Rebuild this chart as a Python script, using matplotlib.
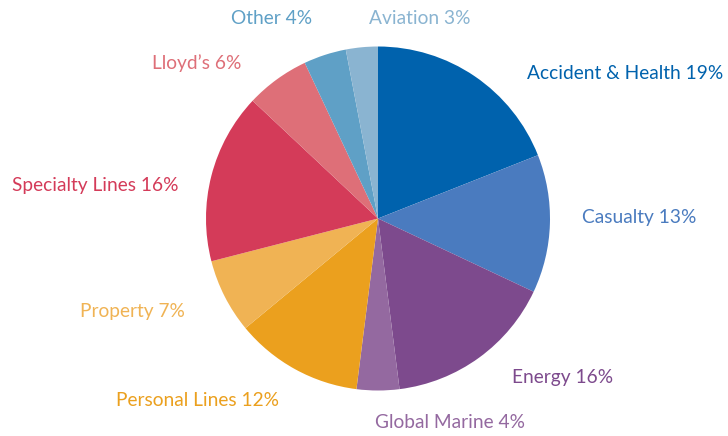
import matplotlib
matplotlib.use("Agg")
import matplotlib.pyplot as plt

categories = ["Accident & Health", "Casualty", "Energy", "Global Marine", "Personal Lines",
              "Property", "Specialty Lines", "Lloyd\u2019s", "Other", "Aviation"]
shares = [19, 13, 16, 4, 12, 7, 16, 6, 4, 3]
colors = ["#0062AD", "#4A7BBF", "#7D4A8D", "#9469A0", "#EBA01E",
          "#F0B354", "#D43B59", "#DE6F78", "#5FA0C6", "#8AB4D1"]
# label anchor positions (left x, centre y) in pixel coordinates
label_pos = [(527, 73), (582, 217), (512, 378), (375, 422), (116, 400),
             (80, 311), (12, 185), (152, 63), (231, 18), (369, 18)]

W, H = 728, 436
fig = plt.figure(figsize=(W / 100, H / 100), dpi=100)
ax = fig.add_axes([0, 0, 1, 1])

ax.pie(shares, colors=colors, startangle=90, counterclock=False,
       center=(378, H - 218.5), radius=172, frame=True,
       wedgeprops=dict(linewidth=0))
ax.set_xlim(0, W)
ax.set_ylim(0, H)
ax.set_aspect("equal")
ax.axis("off")

for cat, val, col, (x, y) in zip(categories, shares, colors, label_pos):
    ax.text(x, H - y, f"{cat} {val}%", color=col, fontsize=13.8,
            family="Lato", ha="left", va="center")

fig.savefig("out.png", dpi=100)
